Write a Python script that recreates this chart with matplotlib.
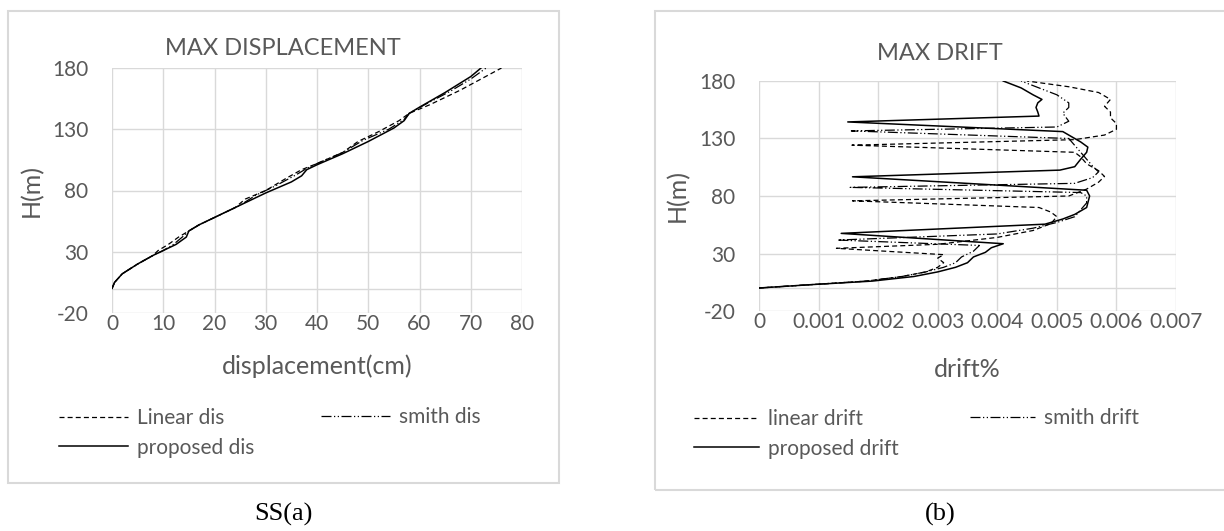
import matplotlib
matplotlib.use("Agg")
import matplotlib.pyplot as plt
from matplotlib.patches import Rectangle
from matplotlib.ticker import FuncFormatter

# ---- (a) MAX DISPLACEMENT: displacement (cm) against height H (m)
linear_dis_x = [0, 0.5, 2, 5, 8, 9, 11, 13, 15, 17, 20, 24, 26, 30, 34, 37, 40, 45,
                48, 52, 56, 58, 62, 68, 76]
linear_dis_h = [0, 5, 12, 20, 27, 31, 36, 42, 47, 52, 58, 66, 73, 80, 90, 97, 102, 111,
                120, 128, 137, 143, 150, 162, 180]
smith_dis_x = [0, 0.5, 2, 5, 8, 10, 12, 14, 15, 17, 20, 25, 28, 32, 36, 38, 40, 45,
               49, 54, 57, 58, 61, 66, 70, 73]
smith_dis_h = [0, 5, 12, 20, 27, 31, 36, 43, 47, 52, 58, 68, 76, 84, 93, 98, 102, 111,
               121, 130, 138, 143, 150, 161, 171, 180]
proposed_dis_x = [0, 0.5, 2, 5, 8, 10, 12.5, 14.5, 15, 17, 20, 25, 30, 35, 37, 38, 40,
                  45, 50, 55, 57, 58, 60, 65, 70, 72]
proposed_dis_h = [0, 5, 12, 20, 27, 31, 36, 42, 47, 52, 58, 68, 78, 87, 92, 97, 101,
                  110, 120, 131, 137, 143, 148, 160, 173, 180]

# ---- (b) MAX DRIFT: drift against height H (m)
linear_drift_x = [0, 0.0009, 0.0018, 0.0024, 0.0028, 0.0030, 0.0031, 0.0030, 0.0031,
                  0.0013, 0.0030, 0.0040, 0.0046, 0.0049, 0.0050, 0.0049, 0.0047, 0.00157,
                  0.0052, 0.0055, 0.0057, 0.0058, 0.0057, 0.0055, 0.0054, 0.0053, 0.00156,
                  0.0053, 0.0058, 0.0060, 0.0060, 0.0059, 0.0059, 0.0058, 0.0059, 0.0057,
                  0.0052, 0.0045]
linear_drift_h = [0, 3, 6, 10, 14, 18, 22, 26, 29, 34.5, 38, 44, 50, 56, 62, 66, 70, 75.8,
                  80, 86, 92, 97, 102, 108, 114, 118, 124.2, 129, 133, 138, 143, 148, 153,
                  158, 164, 170, 175, 180]
smith_drift_x = [0, 0.0009, 0.0018, 0.0024, 0.0028, 0.0031, 0.0033, 0.0034, 0.0036,
                 0.0037, 0.00132, 0.0040, 0.0046, 0.0050, 0.0053, 0.0054, 0.0055, 0.0055,
                 0.0054, 0.00153, 0.0053, 0.0056, 0.0057, 0.0056, 0.0055, 0.0054, 0.0053,
                 0.0052, 0.00155, 0.0050, 0.0052, 0.0051, 0.0052, 0.0052, 0.0050, 0.0047,
                 0.0044]
smith_drift_h = [0, 3, 6, 10, 14, 18, 22, 27, 32, 37, 41.7, 47, 52, 57, 62, 68, 74, 80,
                 83, 87.5, 91, 96, 101, 106, 112, 118, 124, 130, 136.6, 140, 145, 152,
                 157, 161, 168, 174, 180]
proposed_drift_x = [0, 0.0009, 0.0019, 0.0026, 0.0030, 0.0033, 0.0035, 0.0036, 0.0038,
                    0.0039, 0.0041, 0.00138, 0.0048, 0.0051, 0.0053, 0.0055, 0.00555,
                    0.0055, 0.00157, 0.00505, 0.0053, 0.0054, 0.0055, 0.00552, 0.0054,
                    0.0053, 0.0051, 0.00149, 0.0047, 0.00468, 0.00465, 0.00468, 0.00475,
                    0.0046, 0.0044, 0.0041]
proposed_drift_h = [0, 3, 6, 10, 14, 18, 22, 27, 31, 35, 38.5, 47.5, 55.5, 60, 64, 70, 80,
                    85, 96.7, 102.5, 105.5, 112, 118, 122.5, 127, 130, 136, 144.4, 149.5,
                    153, 157, 161, 164, 168, 174, 180]

y_ticks = [-20, 30, 80, 130, 180]
dis_ticks = [0, 10, 20, 30, 40, 50, 60, 70, 80]
drift_ticks = [0, 0.001, 0.002, 0.003, 0.004, 0.005, 0.006, 0.007]

W, H = 1224, 531
GRID = '#d9d9d9'
TXT = '#595959'

plt.rcParams['font.family'] = ['Lato', 'DejaVu Sans']
plt.rcParams['axes.unicode_minus'] = False

DASH = dict(color='black', lw=0.9, dashes=(4, 2.5))
DASHDOT = dict(color='black', lw=0.9, dashes=(8, 2, 1, 2, 1, 2))
SOLID = dict(color='black', lw=1.1)


def px_axes(fig, left, top, right, bottom):
    return fig.add_axes([left / W, 1 - bottom / H, (right - left) / W, (bottom - top) / H])


def fig_text(fig, x, y, s, **kw):
    fig.text(x / W, 1 - y / H, s, ha='center', va='center', **kw)


def style_axes(ax, xticks, fmt):
    ax.set_ylim(-20, 180)
    ax.set_yticks(y_ticks)
    ax.set_xlim(xticks[0], xticks[-1])
    ax.set_xticks(xticks)
    ax.xaxis.set_major_formatter(FuncFormatter(fmt))
    ax.grid(True, color=GRID, lw=1)
    ax.set_axisbelow(True)
    ax.axhline(0, color=GRID, lw=1, zorder=0.5)
    for s in ax.spines.values():
        s.set_visible(False)
    ax.tick_params(axis='both', length=0, labelsize=15, labelcolor=TXT)
    ax.tick_params(axis='y', pad=17)
    ax.tick_params(axis='x', pad=1)


def add_legend(fig, ax, entries, col1_x, col2_x, row1_y, hlen):
    (h1, l1), (h2, l2), (h3, l3) = entries
    kw = dict(frameon=False, fontsize=15, labelcolor=TXT, handlelength=hlen,
              handletextpad=0.45, borderpad=0, borderaxespad=0, labelspacing=0.45,
              loc='center left', bbox_transform=fig.transFigure)
    leg1 = ax.legend([h1, h3], [l1, l3], bbox_to_anchor=(col1_x / W, 1 - (row1_y + 16) / H), **kw)
    ax.add_artist(leg1)
    ax.legend([h2], [l2], bbox_to_anchor=(col2_x / W, 1 - row1_y / H), **kw)


def main():
    fig = plt.figure(figsize=(W / 100, H / 100), dpi=100)

    # chart-area frames
    fig.add_artist(Rectangle((8 / W, 1 - 483 / H), 551 / W, 472 / H, transform=fig.transFigure,
                             fill=False, ec=GRID, lw=1.5))
    fig.add_artist(Rectangle((655 / W, 1 - 490 / H), 580 / W, 479 / H, transform=fig.transFigure,
                             fill=False, ec=GRID, lw=1.5))

    # (a) displacement
    ax = px_axes(fig, 112, 68, 522, 313)
    style_axes(ax, dis_ticks, lambda v, p: f'{v:g}')
    l_lin, = ax.plot(linear_dis_x, linear_dis_h, **DASH)
    l_smi, = ax.plot(smith_dis_x, smith_dis_h, **DASHDOT)
    l_pro, = ax.plot(proposed_dis_x, proposed_dis_h, **SOLID)
    ax.set_xlabel('displacement(cm)', fontsize=18, color=TXT)
    ax.xaxis.set_label_coords(0.5, -0.171)
    ax.set_ylabel('H(m)', fontsize=18, color=TXT)
    ax.yaxis.set_label_coords(-0.168, 0.5)
    add_legend(fig, ax, [(l_lin, 'Linear dis'), (l_smi, 'smith dis'), (l_pro, 'proposed dis')],
               59, 321, 417, 3.3)
    fig_text(fig, 283, 48, 'MAX DISPLACEMENT', fontsize=17, color=TXT)

    # (b) drift
    ax = px_axes(fig, 759, 81, 1176, 311)
    style_axes(ax, drift_ticks, lambda v, p: '0' if abs(v) < 1e-12 else f'{v:.3f}')
    l_lin, = ax.plot(linear_drift_x, linear_drift_h, **DASH)
    l_smi, = ax.plot(smith_drift_x, smith_drift_h, **DASHDOT)
    l_pro, = ax.plot(proposed_drift_x, proposed_drift_h, **SOLID)
    ax.set_xlabel('drift%', fontsize=18, color=TXT)
    ax.xaxis.set_label_coords(0.5, -0.204)
    ax.set_ylabel('H(m)', fontsize=18, color=TXT)
    ax.yaxis.set_label_coords(-0.168, 0.5)
    add_legend(fig, ax, [(l_lin, 'linear drift'), (l_smi, 'smith drift'),
                         (l_pro, 'proposed drift')],
               694, 970, 418, 3.1)
    fig_text(fig, 940, 54, 'MAX DRIFT', fontsize=17, color=TXT)

    # captions
    fig_text(fig, 283, 514, 'SS(a)', fontsize=19, family='Liberation Serif', color='black')
    fig_text(fig, 940, 514, '(b)', fontsize=19, family='Liberation Serif', color='black')

    fig.savefig('out.png', dpi=100)


if __name__ == '__main__':
    main()
